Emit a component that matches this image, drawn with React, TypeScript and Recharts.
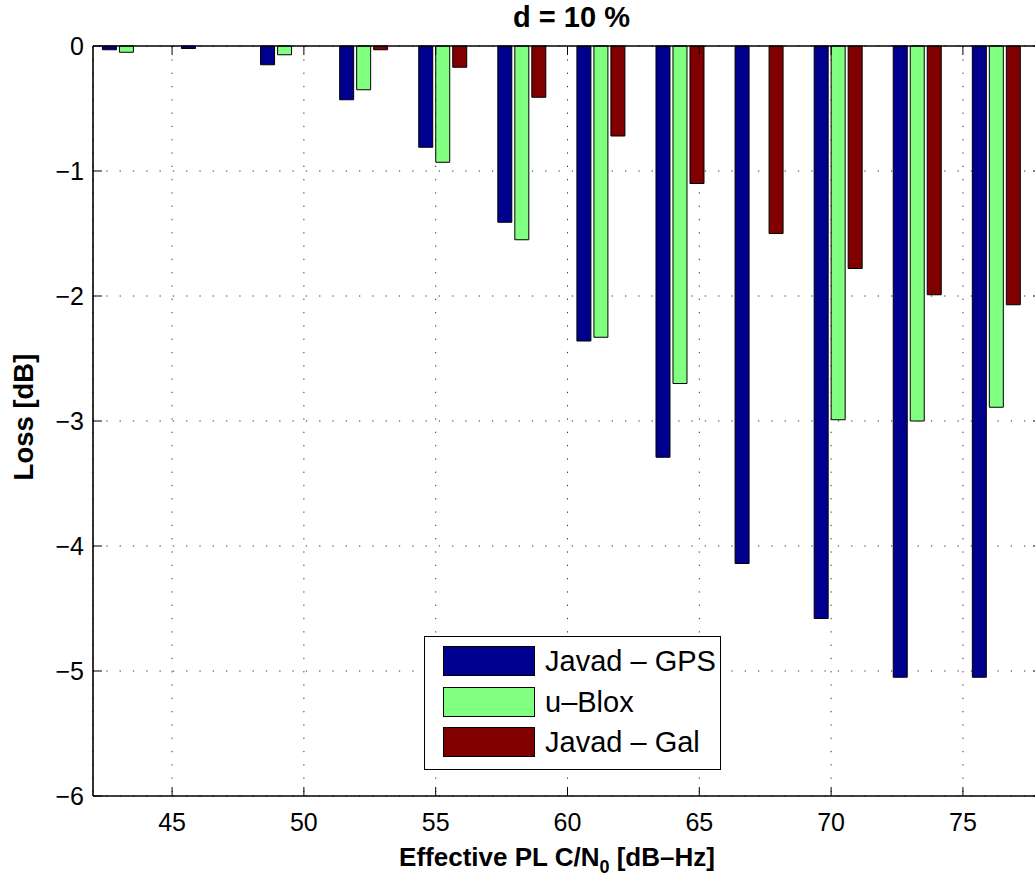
import React from "react";
import {
  BarChart,
  Bar,
  XAxis,
  YAxis,
  CartesianGrid,
  ReferenceLine,
  Legend,
} from "recharts";

// Data
const cn0 = [43.25, 46.25, 49.25, 52.25, 55.25, 58.25, 61.25, 64.25, 67.25, 70.25, 73.25, 76.25];
const javadGps = [-0.03, -0.02, -0.15, -0.43, -0.81, -1.41, -2.36, -3.29, -4.14, -4.58, -5.05, -5.05];
const uBlox = [-0.05, 0, -0.07, -0.35, -0.93, -1.55, -2.33, -2.7, null, -2.99, -3.0, -2.89];
const javadGal = [0, 0, 0, -0.03, -0.17, -0.41, -0.72, -1.1, -1.5, -1.78, -1.99, -2.07];

const xTicks = [45, 50, 55, 60, 65, 70, 75];
const yTicks = [-6, -5, -4, -3, -2, -1, 0];

const series = [
  { key: "gps", name: "Javad – GPS", color: "#00008F" },
  { key: "ublox", name: "u–Blox", color: "#80FF80" },
  { key: "gal", name: "Javad – Gal", color: "#800000" },
];

const data = cn0.map((x, i) => ({
  x,
  gps: javadGps[i],
  ublox: uBlox[i],
  gal: javadGal[i],
}));

const FONT = "'Liberation Sans', Arial, Helvetica, sans-serif";

// plot box in px (right edge runs past the visible area)
const PLOT_TOP = 46;
const PLOT_BOTTOM = 796;
const PLOT_LEFT = 93;
const PLOT_RIGHT = 1042;
const TICK_LEN = 9;

const fmt = (v: number) => (v < 0 ? `\u2212${Math.abs(v)}` : `${v}`);

function XTick({ x, payload }: any) {
  return (
    <g>
      <line x1={x} x2={x} y1={PLOT_BOTTOM} y2={PLOT_BOTTOM - TICK_LEN} stroke="#000" />
      <line x1={x} x2={x} y1={PLOT_TOP} y2={PLOT_TOP + TICK_LEN} stroke="#000" />
      <text x={x} y={PLOT_BOTTOM + 35} textAnchor="middle" fontSize={25} fontFamily={FONT} fill="#000">
        {payload.value}
      </text>
    </g>
  );
}

function YTick({ y, payload }: any) {
  return (
    <g>
      <line x1={PLOT_LEFT} x2={PLOT_LEFT + TICK_LEN} y1={y} y2={y} stroke="#000" />
      <line x1={PLOT_RIGHT - TICK_LEN} x2={PLOT_RIGHT} y1={y} y2={y} stroke="#000" />
      <text x={PLOT_LEFT - 9} y={y + 9} textAnchor="end" fontSize={25} fontFamily={FONT} fill="#000">
        {fmt(payload.value)}
      </text>
    </g>
  );
}

function XLabel() {
  return (
    <text x={557} y={866} textAnchor="middle" fontSize={26} fontWeight="bold" fontFamily={FONT} fill="#000">
      Effective PL C/N
      <tspan fontSize={18} dy={7}>0</tspan>
      <tspan dy={-7}> [dB–Hz]</tspan>
    </text>
  );
}

function YLabel() {
  return (
    <text
      x={23}
      y={417}
      transform="rotate(-90 23 417)"
      textAnchor="middle"
      dominantBaseline="central"
      fontSize={27.5}
      fontWeight="bold"
      fontFamily={FONT}
      fill="#000"
    >
      Loss [dB]
    </text>
  );
}

// legend entries kept in series order
function LegendBox() {
  return (
    <div
      style={{
        width: 297,
        height: 134,
        boxSizing: "border-box",
        border: "1.5px solid #000",
        background: "#fff",
        paddingTop: 4,
        fontFamily: FONT,
      }}
    >
      {series.map((s) => (
        <div key={s.key} style={{ display: "flex", alignItems: "center", height: 40.5 }}>
          <div
            style={{
              marginLeft: 18,
              width: 92,
              height: 30,
              boxSizing: "border-box",
              background: s.color,
              border: "1px solid #000",
            }}
          />
          <span style={{ marginLeft: 10, fontSize: 29, color: "#000", lineHeight: "30px" }}>{s.name}</span>
        </div>
      ))}
    </div>
  );
}

export default function App() {
  return (
    <div
      style={{
        position: "absolute",
        left: 0,
        top: 0,
        width: 1035,
        height: 881,
        overflow: "hidden",
        background: "#fff",
      }}
    >
      <div
        style={{
          position: "absolute",
          left: PLOT_LEFT,
          width: PLOT_RIGHT - PLOT_LEFT + 8,
          top: 0,
          textAlign: "center",
          fontFamily: FONT,
          fontWeight: "bold",
          fontSize: 29,
          lineHeight: "35px",
          color: "#000",
        }}
      >
        d = 10 %
      </div>
      <BarChart
        width={1050}
        height={881}
        data={data}
        margin={{ top: PLOT_TOP, right: 1050 - PLOT_RIGHT, bottom: 0, left: 0 }}
        barSize={14}
        barGap={3}
      >
        <CartesianGrid stroke="#333" strokeDasharray="1.3 12" vertical horizontal />
        <XAxis
          dataKey="x"
          type="number"
          domain={[42, 78]}
          ticks={xTicks}
          allowDataOverflow
          height={881 - PLOT_BOTTOM}
          tickSize={0}
          tickMargin={0}
          tick={<XTick />}
          axisLine={{ stroke: "#000", strokeWidth: 1.6 }}
          interval={0}
        />
        <YAxis
          type="number"
          domain={[-6, 0]}
          ticks={yTicks}
          width={PLOT_LEFT}
          tickSize={0}
          tickMargin={0}
          tick={<YTick />}
          axisLine={{ stroke: "#000", strokeWidth: 1.6 }}
          interval={0}
        />
        {series.map((s) => (
          <Bar
            key={s.key}
            dataKey={s.key}
            name={s.name}
            fill={s.color}
            stroke="#000"
            strokeWidth={1}
            isAnimationActive={false}
          />
        ))}
        <ReferenceLine y={0} stroke="#000" strokeWidth={1.6} />
        <Legend
          layout="vertical"
          align="center"
          verticalAlign="middle"
          content={<LegendBox />}
          wrapperStyle={{ left: 424, top: 636, width: 297, height: 134 }}
        />
        <XLabel />
        <YLabel />
      </BarChart>
    </div>
  );
}
